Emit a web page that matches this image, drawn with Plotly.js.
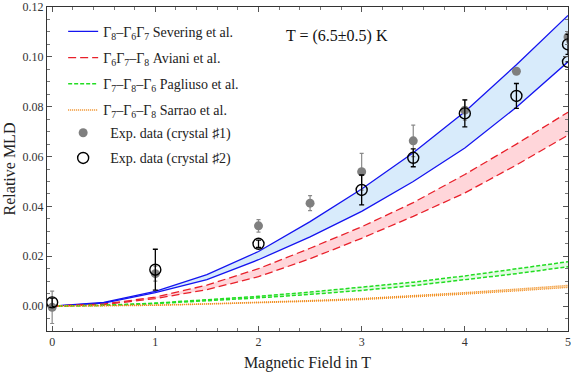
<!DOCTYPE html>
<html>
<head>
<meta charset="utf-8">
<script src="https://cdn.plot.ly/plotly-3.0.1.min.js"></script>
<style>html,body{margin:0;padding:0;background:#fff;}#chart{width:571px;height:373px;}</style>
</head>
<body>
<div id="chart"></div>
<script>
// Magnetic field grid for model curves (T)
const fields = [0, 0.5, 1, 1.5, 2, 2.5, 3, 3.5, 4, 4.5, 5];
// Model bands (upper / lower bound of T = 6.5±0.5 K)
const severingUpper = [0, 0.0015, 0.0059, 0.0126, 0.0219, 0.0339, 0.0470, 0.0615, 0.0780, 0.0968, 0.1166];
const severingLower = [0, 0.0012, 0.0054, 0.0106, 0.0186, 0.0278, 0.0380, 0.0500, 0.0634, 0.0798, 0.0980];
const avianiUpper   = [0, 0.0008, 0.0036, 0.0084, 0.0150, 0.0232, 0.0318, 0.0415, 0.0528, 0.0650, 0.0778];
const avianiLower   = [0, 0.0006, 0.0030, 0.0066, 0.0118, 0.0190, 0.0272, 0.0360, 0.0454, 0.0566, 0.0686];
const pagliusoUpper = [0, 0.0003, 0.0012, 0.0024, 0.0039, 0.0056, 0.0075, 0.0096, 0.0121, 0.0148, 0.0178];
const pagliusoLower = [0, 0.0003, 0.0010, 0.0020, 0.0033, 0.0047, 0.0063, 0.0082, 0.0105, 0.0130, 0.0158];
const sarraoUpper   = [0, 0.0001, 0.0004, 0.0009, 0.0015, 0.0022, 0.0030, 0.0041, 0.0054, 0.0068, 0.0083];
const sarraoLower   = [0, 0.0001, 0.0003, 0.0008, 0.0013, 0.0019, 0.0026, 0.0036, 0.0048, 0.0061, 0.0075];
// Experimental data
const crystal1Field = [0, 1, 2, 2.5, 3, 3.5, 4, 4.5, 5];
const crystal1MLD   = [-0.0005, 0.0130, 0.0322, 0.0413, 0.0539, 0.0663, 0.0786, 0.0942, 0.1080];
const crystal1Err   = [0.0065, 0.0030, 0.0025, 0.0030, 0.0074, 0.0063, 0.0040, 0.0010, 0.0020];
const crystal2Field = [0, 1, 2, 3, 3.5, 4, 4.5, 5, 5];
const crystal2MLD   = [0.0015, 0.0146, 0.0250, 0.0466, 0.0595, 0.0773, 0.0843, 0.1050, 0.0980];
const crystal2Err   = [0.0017, 0.0082, 0.0015, 0.0060, 0.0036, 0.0054, 0.0050, 0.0040, 0];
// Labels
const seriesNames = [
  'Γ<sub>8</sub>–Γ<sub>6</sub>Γ<sub>7</sub> Severing et al.',
  'Γ<sub>6</sub>Γ<sub>7</sub>–Γ<sub>8</sub> Aviani et al.',
  'Γ<sub>7</sub>–Γ<sub>8</sub>–Γ<sub>6</sub> Pagliuso et al.',
  'Γ<sub>7</sub>–Γ<sub>6</sub>–Γ<sub>8</sub> Sarrao et al.',
  '\u00a0\u00a0Exp. data (crystal ♯1)',
  '\u00a0\u00a0Exp. data (crystal ♯2)'
];
const xTicks = [0, 1, 2, 3, 4, 5];
const yTicks = [0, 0.02, 0.04, 0.06, 0.08, 0.10, 0.12];

const bands = [
  {up: severingUpper, lo: severingLower, color: '#1414f0', fill: 'rgba(200,226,250,0.7)', dash: 'solid', w: 1.3},
  {up: avianiUpper, lo: avianiLower, color: '#e8202a', fill: 'rgba(255,200,205,0.75)', dash: '8px,4px', w: 1.3},
  {up: pagliusoUpper, lo: pagliusoLower, color: '#22dd22', fill: 'rgba(215,250,215,0.7)', dash: '4px,2px', w: 1.5},
  {up: sarraoUpper, lo: sarraoLower, color: '#f08a1a', fill: 'rgba(250,215,170,0.7)', dash: '1px,1px', w: 1.4}
];

const traces = [];
bands.forEach(b => {
  traces.push({x: fields, y: b.lo, mode: 'lines', line: {width: 0}, showlegend: false, hoverinfo: 'skip'});
  traces.push({x: fields, y: b.up, mode: 'lines', line: {width: 0}, fill: 'tonexty', fillcolor: b.fill, showlegend: false, hoverinfo: 'skip'});
});
bands.forEach((b, i) => {
  traces.push({x: fields, y: b.up, mode: 'lines', name: seriesNames[i], legendgroup: 'g' + i,
    line: {color: b.color, width: b.w, dash: b.dash}});
  traces.push({x: fields, y: b.lo, mode: 'lines', showlegend: false, legendgroup: 'g' + i,
    line: {color: b.color, width: b.w, dash: b.dash}});
});
traces.push({x: crystal1Field, y: crystal1MLD, mode: 'markers', name: seriesNames[4], legendgroup: 'g4', legend: 'legend2',
  marker: {symbol: 'circle', size: 9, color: '#7f7f7f'},
  error_y: {type: 'data', array: crystal1Err, visible: true, color: '#8a8a8a', thickness: 1.2, width: 2}});
traces.push({x: crystal2Field, y: crystal2MLD, mode: 'markers', name: seriesNames[5], legendgroup: 'g5', legend: 'legend2',
  marker: {symbol: 'circle-open', size: 11, color: '#000', line: {width: 1.4, color: '#000'}},
  error_y: {type: 'data', array: crystal2Err, visible: true, color: '#000', thickness: 1.3, width: 2.5}});

const serif = 'Liberation Serif, Times New Roman, serif';
const legendFont = {family: serif, size: 14, color: '#222'};
const layout = {
  width: 571, height: 373,
  margin: {l: 47, r: 3, t: 7, b: 42},
  paper_bgcolor: '#fff', plot_bgcolor: '#fff',
  font: {family: serif, color: '#333', size: 12},
  showlegend: true,
  legend: {x: 0.031, y: 0.973, xanchor: 'left', yanchor: 'top', bgcolor: 'rgba(0,0,0,0)',
    font: legendFont, traceorder: 'grouped', tracegroupgap: 5},
  legend2: {x: 0.031, y: 0.66, xanchor: 'left', yanchor: 'top', bgcolor: 'rgba(0,0,0,0)',
    font: legendFont, traceorder: 'grouped', tracegroupgap: 4},
  xaxis: {range: [-0.05, 5.0], tickvals: xTicks, ticktext: xTicks.map(String),
    ticks: 'inside', ticklen: 5, tickcolor: '#555', tickwidth: 1,
    minor: {dtick: 0.2, ticks: 'inside', ticklen: 3, tickcolor: '#777'},
    showline: true, linecolor: '#333', linewidth: 1, mirror: 'ticks', showgrid: false, zeroline: false,
    tickfont: {family: serif, size: 12, color: '#333'},
    title: {text: 'Magnetic Field in T', font: {family: serif, size: 16, color: '#222'}, standoff: 8}},
  yaxis: {range: [-0.01, 0.12], tickvals: yTicks, ticktext: yTicks.map(v => v.toFixed(2)),
    ticks: 'inside', ticklen: 5, tickcolor: '#555', tickwidth: 1,
    minor: {dtick: 0.005, ticks: 'inside', ticklen: 3, tickcolor: '#777'},
    showline: true, linecolor: '#333', linewidth: 1, mirror: 'ticks', showgrid: false, zeroline: false,
    tickfont: {family: serif, size: 12, color: '#333'},
    title: {text: 'Relative MLD', font: {family: serif, size: 16, color: '#222'}, standoff: 2}},
  annotations: [{text: 'T = (6.5±0.5) K', xref: 'paper', yref: 'paper', x: 0.455, y: 0.91,
    xanchor: 'left', yanchor: 'middle', showarrow: false, font: {family: serif, size: 16, color: '#111'}}]
};
Plotly.newPlot('chart', traces, layout, {displayModeBar: false, staticPlot: true});
</script>
</body>
</html>
